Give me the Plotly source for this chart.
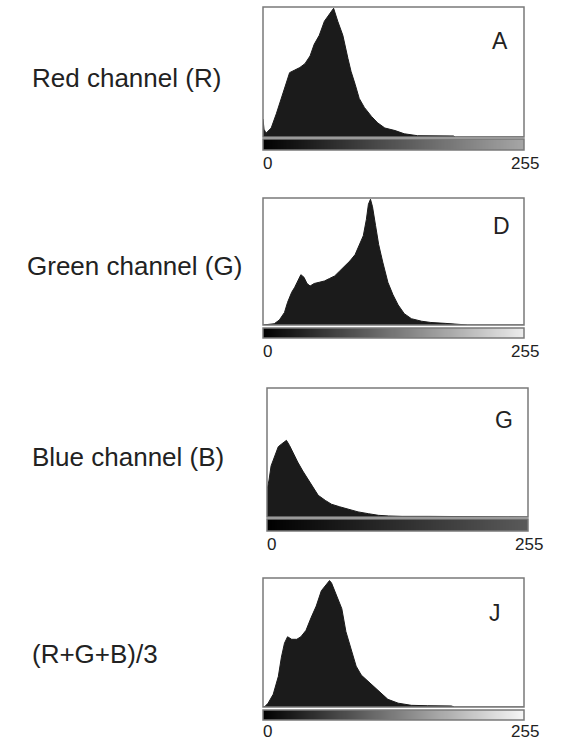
import plotly.graph_objects as go

# ---- data (intensity level, relative count %) ----
levels_A = [0, 1, 3, 8, 13, 18, 23, 26, 31, 36, 41, 46, 50, 55, 60, 65, 69, 73, 78, 83, 86, 90, 94, 99, 106, 112, 119, 129, 138, 151, 171, 186, 188, 255]
counts_A = [14, 6, 3, 7, 18, 30, 43, 50, 52, 54, 57, 63, 72, 79, 90, 96, 100, 90, 79, 61, 51, 41, 30, 23, 16, 11, 7, 5, 2.5, 1, 1, 0.8, 0, 0]

levels_D = [0, 8, 11, 16, 21, 24, 28, 31, 34, 37, 40, 43, 46, 50, 55, 60, 65, 70, 75, 80, 85, 90, 94, 98, 101, 103, 105, 107, 110, 113, 117, 122, 127, 132, 138, 145, 155, 164, 178, 191, 200, 255]
counts_D = [0, 0.5, 1, 4, 10, 18, 26, 30, 35, 40, 38, 33, 31, 33, 34, 35, 37, 39, 43, 47, 51, 56, 63, 71, 84, 96, 100, 94, 79, 64, 50, 34, 24, 16, 9, 5, 3, 2, 1.3, 0.5, 0, 0]

levels_G = [0, 2, 4, 8, 11, 14, 19, 22, 25, 30, 35, 40, 45, 50, 57, 63, 71, 79, 89, 99, 109, 119, 132, 158, 184, 191, 255]
counts_G = [21, 29, 40, 49, 55, 57, 60, 56, 51, 43, 36, 30, 23, 17, 13, 10, 8, 6, 4, 2.6, 1.3, 0.8, 0.5, 0.5, 0.5, 0, 0]

levels_J = [0, 2, 5, 10, 15, 18, 21, 24, 28, 33, 37, 42, 47, 52, 57, 62, 65, 67, 72, 77, 81, 86, 91, 96, 103, 109, 116, 122, 132, 145, 161, 184, 187, 255]
counts_J = [0, 0.5, 3, 10, 24, 39, 50, 55, 53, 53, 55, 60, 70, 79, 91, 96, 99, 97, 87, 77, 59, 45, 32, 25, 20, 15, 10, 6, 3, 1.3, 1, 0.8, 0, 0]

channel_labels = ["Red channel (R)", "Green channel (G)", "Blue channel (B)", "(R+G+B)/3"]
panel_letters = ["A", "D", "G", "J"]
tick_values = [0, 255]
tick_labels = ["0", "255"]
gradient_levels = list(range(256))

# ---- layout geometry (pixels) ----
W, H = 562, 743
panels = [
    dict(lv=levels_A, ct=counts_A, box=(263, 524, 7, 137), grad=(139, 150), end="#a6a6a6",
         lab=(30, 78), let=(500, 41), tk=163),
    dict(lv=levels_D, ct=counts_D, box=(263, 524, 198, 325), grad=(328, 338), end="#ececec",
         lab=(25, 266), let=(501, 226), tk=351),
    dict(lv=levels_G, ct=counts_G, box=(267, 528, 388, 517), grad=(519, 531), end="#5a5a5a",
         lab=(30, 457), let=(504, 420), tk=544),
    dict(lv=levels_J, ct=counts_J, box=(263, 524, 578, 707), grad=(710, 720), end="#f7f7f7",
         lab=(30, 654), let=(495, 613), tk=731),
]

def px(x):
    return x / W

def py(y):
    return 1 - y / H

fig = go.Figure()
layout = dict(width=W, height=H, margin=dict(l=0, r=0, t=0, b=0),
              paper_bgcolor="white", plot_bgcolor="white", showlegend=False)
shapes, annotations = [], []
FONT = "Liberation Sans, Arial, sans-serif"

for i, p in enumerate(panels):
    hx = 2 * i + 1
    gx = 2 * i + 2
    x0, x1, y0, y1 = p["box"]
    g0, g1 = p["grad"]
    hs = "" if hx == 1 else str(hx)
    gs = str(gx)
    # histogram
    fig.add_trace(go.Scatter(x=p["lv"], y=p["ct"], mode="lines", fill="tozeroy",
                             line=dict(color="#1b1b1b", width=1), fillcolor="#1b1b1b",
                             xaxis="x" + hs, yaxis="y" + hs, hoverinfo="skip"))
    layout["xaxis" + hs] = dict(domain=[px(x0), px(x1)], range=[0, 255], visible=False,
                                anchor="y" + hs)
    layout["yaxis" + hs] = dict(domain=[py(y1), py(y0)], range=[0, 101], visible=False,
                                anchor="x" + hs)
    # gradient bar
    fig.add_trace(go.Heatmap(z=[gradient_levels], x=gradient_levels, y=[0],
                             colorscale=[[0, "#000000"], [1, p["end"]]], showscale=False,
                             xaxis="x" + gs, yaxis="y" + gs, hoverinfo="skip"))
    layout["xaxis" + gs] = dict(domain=[px(x0), px(x1)], range=[-0.5, 255.5], visible=False,
                                anchor="y" + gs)
    layout["yaxis" + gs] = dict(domain=[py(g1), py(g0)], range=[-0.5, 0.5], visible=False,
                                anchor="x" + gs)
    # tick labels on the gradient axis
    for tv, tt, sh in zip(tick_values, tick_labels, [4, 2]):
        annotations.append(dict(text=tt, xref="x" + gs, yref="paper", x=tv, y=py(p["tk"]),
                                xanchor="center", yanchor="middle", xshift=sh, showarrow=False,
                                font=dict(family=FONT, size=17, color="#222")))
    # borders
    shapes.append(dict(type="rect", xref="paper", yref="paper", x0=px(x0), x1=px(x1),
                       y0=py(y1), y1=py(y0), line=dict(color="#7a7a7a", width=1.5)))
    shapes.append(dict(type="rect", xref="paper", yref="paper", x0=px(x0), x1=px(x1),
                       y0=py(g1), y1=py(g0), line=dict(color="#7a7a7a", width=1.5)))
    # channel label
    lx, ly = p["lab"]
    annotations.append(dict(text=channel_labels[i], xref="paper", yref="paper",
                            x=px(lx), y=py(ly), xanchor="left", yanchor="middle",
                            showarrow=False, font=dict(family=FONT, size=26, color="#222")))
    # panel letter
    tx, ty = p["let"]
    annotations.append(dict(text=panel_letters[i], xref="paper", yref="paper",
                            x=px(tx), y=py(ty), xanchor="center", yanchor="middle",
                            showarrow=False, font=dict(family=FONT, size=23, color="#222")))

layout["shapes"] = shapes
layout["annotations"] = annotations
fig.update_layout(**layout)
fig.write_html("out.html", config={"displayModeBar": False},
               post_script="document.body.style.margin='0';"
                           "document.documentElement.style.overflow='hidden';")
